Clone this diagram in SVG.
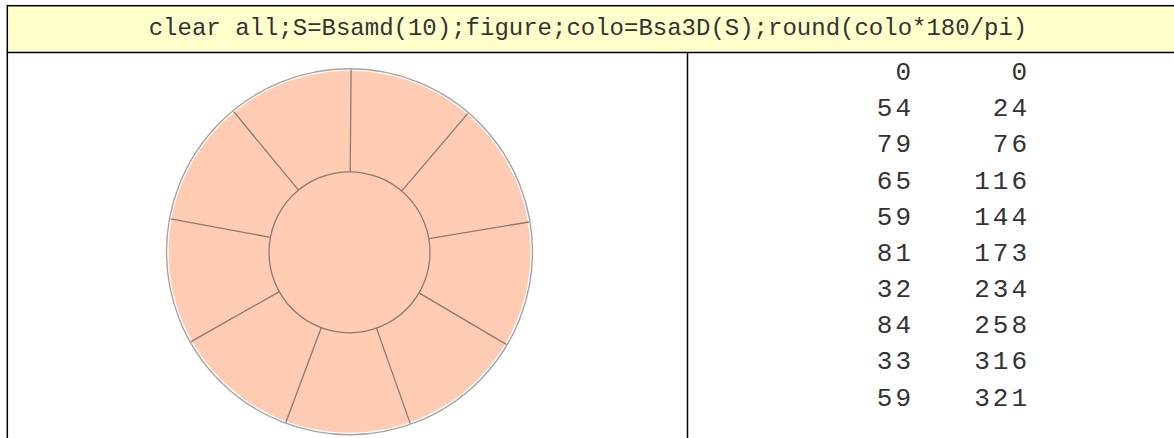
<svg xmlns="http://www.w3.org/2000/svg" width="1174" height="438" viewBox="0 0 1174 438">
<style>
.grid{stroke:#000;stroke-width:1.5;fill:none}
.hdr{font-family:"Liberation Mono","Courier New",monospace;font-size:24px;fill:#333}
.num{font-family:"Liberation Mono","Courier New",monospace;font-size:26px;letter-spacing:3px;fill:#333;text-anchor:end}
.seg{stroke:#8a7b72;stroke-width:1.3;fill:none}
</style>
<rect x="0" y="0" width="1174" height="438" fill="#fff"/>
<g id="header">
<rect x="7.3" y="5.7" width="1180" height="46.8" fill="#ffffcc" stroke="#000" stroke-width="1.5"/>
<text class="hdr" x="588" y="34.5" text-anchor="middle">clear all;S=Bsamd(10);figure;colo=Bsa3D(S);round(colo*180/pi)</text>
</g>
<g id="table-lines">
<line class="grid" x1="7.3" y1="52.5" x2="7.3" y2="438"/>
<line class="grid" x1="687.5" y1="52.5" x2="687.5" y2="438"/>
</g>
<g id="figure">
<circle cx="349.5" cy="251.8" r="183" fill="none" stroke="#a3a3a3" stroke-width="1.4"/>
<circle cx="349.5" cy="251.8" r="181" fill="#ffcbb2"/>
<circle class="seg" cx="349.5" cy="252.3" r="80.5"/>
<g id="spokes">
<line class="seg" x1="350.2" y1="171.5" x2="351.1" y2="69.5"/>
<line class="seg" x1="401.8" y1="190.8" x2="467.7" y2="113.6"/>
<line class="seg" x1="428.9" y1="238.7" x2="529.0" y2="222.0"/>
<line class="seg" x1="418.9" y1="292.9" x2="506.3" y2="344.4"/>
<line class="seg" x1="376.4" y1="327.9" x2="410.3" y2="423.6"/>
<line class="seg" x1="321.3" y1="327.4" x2="285.8" y2="422.5"/>
<line class="seg" x1="279.4" y1="291.6" x2="191.1" y2="341.6"/>
<line class="seg" x1="270.3" y1="237.3" x2="170.5" y2="218.8"/>
<line class="seg" x1="298.3" y1="189.9" x2="233.7" y2="111.6"/>
</g>
</g>
<g id="values">
<text class="num" x="914" y="80">0</text><text class="num" x="1030" y="80">0</text>
<text class="num" x="914" y="116.2">54</text><text class="num" x="1030" y="116.2">24</text>
<text class="num" x="914" y="152.4">79</text><text class="num" x="1030" y="152.4">76</text>
<text class="num" x="914" y="188.5">65</text><text class="num" x="1030" y="188.5">116</text>
<text class="num" x="914" y="224.7">59</text><text class="num" x="1030" y="224.7">144</text>
<text class="num" x="914" y="260.9">81</text><text class="num" x="1030" y="260.9">173</text>
<text class="num" x="914" y="297.1">32</text><text class="num" x="1030" y="297.1">234</text>
<text class="num" x="914" y="333.3">84</text><text class="num" x="1030" y="333.3">258</text>
<text class="num" x="914" y="369.4">33</text><text class="num" x="1030" y="369.4">316</text>
<text class="num" x="914" y="405.6">59</text><text class="num" x="1030" y="405.6">321</text>
</g>
</svg>
